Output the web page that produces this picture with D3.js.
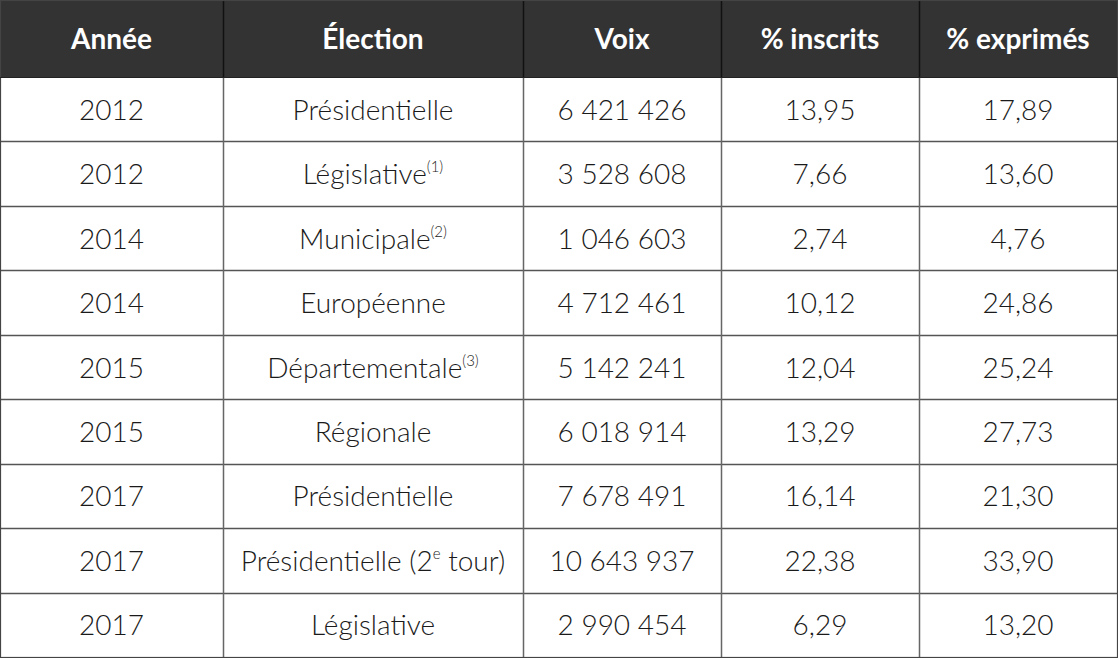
<!DOCTYPE html>
<html>
<head>
<meta charset="utf-8">
<script src="https://cdn.jsdelivr.net/npm/d3@7"></script>
<style>
html,body{margin:0;padding:0;background:#fff;}
svg{display:block;}
</style>
</head>
<body>
<svg id="chart" width="1118" height="658"></svg>
<script>
const headers = ["Année", "Élection", "Voix", "% inscrits", "% exprimés"];
const years = ["2012","2012","2014","2014","2015","2015","2017","2017","2017"];
const elections = ["Présidentielle","Législative","Municipale","Européenne","Départementale","Régionale","Présidentielle","Présidentielle (2","Législative"];
const electionSup = ["","(1)","(2)","","(3)","","","e",""];
const electionTail = ["","","","","","",""," tour)",""];
const voix = ["6 421 426","3 528 608","1 046 603","4 712 461","5 142 241","6 018 914","7 678 491","10 643 937","2 990 454"];
const inscrits = ["13,95","7,66","2,74","10,12","12,04","13,29","16,14","22,38","6,29"];
const exprimes = ["17,89","13,60","4,76","24,86","25,24","27,73","21,30","33,90","13,20"];

const colEdges = [0, 223, 523, 721, 919, 1117];
const W = 1118, H = 658;
const headerH = 77;
const svg = d3.select("#chart");
const font = "Lato, 'Open Sans', sans-serif";

const rowIdx = d3.range(years.length);
const y = d3.scaleBand().domain(rowIdx).range([headerH, 657]).padding(0);
const colX = d3.scaleOrdinal().domain(d3.range(5)).range(colEdges.slice(0,5));
const colW = i => colEdges[i+1] - colEdges[i];

svg.append("rect").attr("x",0).attr("y",0).attr("width",W).attr("height",H).attr("fill","#fff");
svg.append("rect").attr("x",0).attr("y",0).attr("width",1118).attr("height",headerH).attr("fill","#333333");

const g = svg.append("g");
rowIdx.slice(1).forEach(i => {
  g.append("line").attr("x1",0).attr("x2",1118).attr("y1",Math.round(y(i))+0.5).attr("y2",Math.round(y(i))+0.5)
    .attr("stroke","#555").attr("stroke-width",1.5);
});
colEdges.slice(1,5).forEach(x => {
  g.append("line").attr("x1",x+0.5).attr("x2",x+0.5).attr("y1",headerH).attr("y2",657)
    .attr("stroke","#666").attr("stroke-width",1.5);
  g.append("line").attr("x1",x+0.5).attr("x2",x+0.5).attr("y1",0).attr("y2",headerH)
    .attr("stroke","#111").attr("stroke-width",1.5);
});
svg.append("rect").attr("x",0.5).attr("y",0.5).attr("width",1117).attr("height",657)
  .attr("fill","none").attr("stroke","#444").attr("stroke-width",1.2);
svg.append("line").attr("x1",0).attr("x2",1118).attr("y1",headerH+0.5).attr("y2",headerH+0.5)
  .attr("stroke","#222").attr("stroke-width",1);

svg.selectAll("text.h").data(headers).join("text").attr("class","h")
  .attr("x",(d,i)=>colX(i)+colW(i)/2).attr("y",headerH/2+10.5)
  .attr("text-anchor","middle").attr("fill","#fff")
  .attr("font-family",font).attr("font-weight",700).attr("font-size",28)
  .text(d=>d);

const cols = [years, null, voix, inscrits, exprimes];
const body = svg.append("g").attr("font-family",font).attr("font-size",28).attr("font-weight",300).attr("fill","#1a1a1a");
cols.forEach((arr,c) => {
  if (c === 1) return;
  body.selectAll(null).data(arr).join("text")
    .attr("x",colX(c)+colW(c)/2).attr("y",(d,i)=>y(i)+y.bandwidth()/2+10.5)
    .attr("text-anchor","middle").text(d=>d);
});
const et = body.selectAll(null).data(rowIdx).join("text")
  .attr("x",colX(1)+colW(1)/2).attr("y",i=>y(i)+y.bandwidth()/2+10.5)
  .attr("text-anchor","middle");
et.append("tspan").text(i=>elections[i]);
et.append("tspan").attr("font-size",15).attr("dy",-12).text(i=>electionSup[i]);
et.append("tspan").attr("dy",i=>electionSup[i]?12:0).text(i=>electionTail[i]);
</script>
</body>
</html>
